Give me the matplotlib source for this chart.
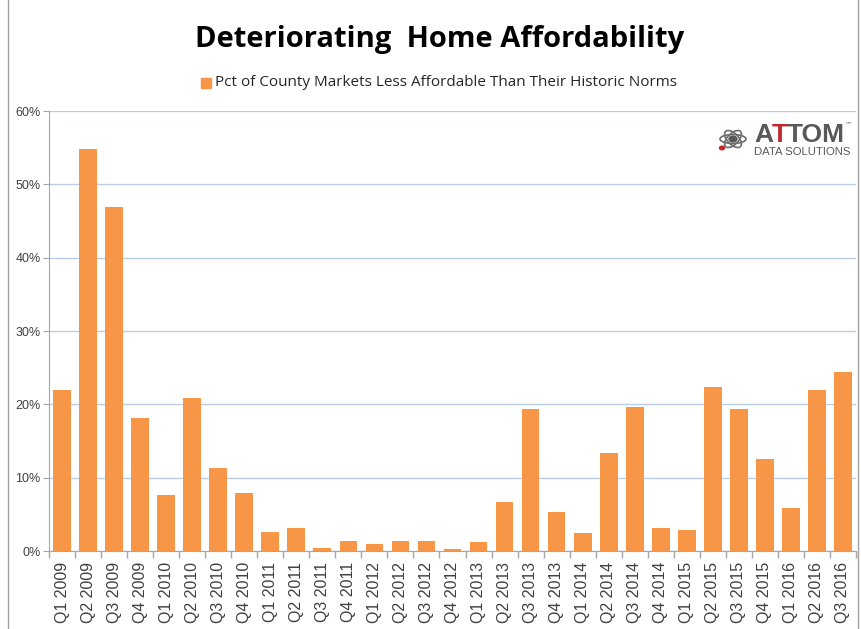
import matplotlib
matplotlib.use("Agg")
import matplotlib.pyplot as plt
import numpy as np
from matplotlib.ticker import FixedLocator, FuncFormatter
from matplotlib.patches import Ellipse, Circle

quarters = ["Q1 2009", "Q2 2009", "Q3 2009", "Q4 2009",
            "Q1 2010", "Q2 2010", "Q3 2010", "Q4 2010",
            "Q1 2011", "Q2 2011", "Q3 2011", "Q4 2011",
            "Q1 2012", "Q2 2012", "Q3 2012", "Q4 2012",
            "Q1 2013", "Q2 2013", "Q3 2013", "Q4 2013",
            "Q1 2014", "Q2 2014", "Q3 2014", "Q4 2014",
            "Q1 2015", "Q2 2015", "Q3 2015", "Q4 2015",
            "Q1 2016", "Q2 2016", "Q3 2016"]
pct_less_affordable = [22.0, 54.8, 46.9, 18.2,
                       7.7, 20.9, 11.3, 7.9,
                       2.6, 3.1, 0.4, 1.4,
                       0.9, 1.4, 1.4, 0.3,
                       1.2, 6.7, 19.4, 5.3,
                       2.4, 13.3, 19.7, 3.2,
                       2.9, 22.3, 19.4, 12.6,
                       5.8, 22.0, 24.4]
yticks = [0, 10, 20, 30, 40, 50, 60]

title = "Deteriorating  Home Affordability"
legend_label = "Pct of County Markets Less Affordable Than Their Historic Norms"

W, H = 861, 629
fig = plt.figure(figsize=(W / 100, H / 100), dpi=100)
ax = fig.add_axes([49 / W, 1 - 551 / H, (856 - 49) / W, (551 - 111) / H])

x = np.arange(len(quarters))
ax.bar(x, pct_less_affordable, width=0.68, color="#F79646", zorder=3)

ax.set_xlim(-0.5, len(quarters) - 0.5)
ax.set_ylim(0, 60)
ax.set_yticks(yticks)
ax.yaxis.set_major_formatter(FuncFormatter(lambda v, p: f"{int(v)}%"))
ax.grid(axis="y", color="#B9CDE5", linewidth=1.0, zorder=0)

ax.set_xticks(x)
ax.set_xticklabels(quarters, rotation=90, fontsize=11.5, color="#404040",
                   family="Liberation Sans")
ax.xaxis.set_minor_locator(FixedLocator(np.arange(-0.5, len(quarters), 1.0)))
ax.tick_params(axis="x", which="major", length=0, pad=8)
ax.tick_params(axis="x", which="minor", length=5, color="#A6A6A6", width=1)
ax.tick_params(axis="y", length=4, color="#A6A6A6", labelsize=9,
               labelcolor="#404040", pad=2)
for lab in ax.get_yticklabels():
    lab.set_family("Liberation Sans")

for s in ["top", "right"]:
    ax.spines[s].set_visible(False)
ax.spines["left"].set_color("#A6A6A6")
ax.spines["bottom"].set_color("#A6A6A6")

# frame
fig.add_artist(plt.Line2D([8 / W, 8 / W], [0, 1], color="#A0A0A0", lw=1))
fig.add_artist(plt.Line2D([858 / W, 858 / W], [0, 1], color="#A0A0A0", lw=1))

fig.text(440 / W, 1 - 40 / H, title, ha="center", va="center",
         fontsize=21, fontweight="bold", family="Open Sans", color="black")

# legend
fig.patches.append(plt.Rectangle((201 / W, 1 - 88 / H), 10 / W, 10 / H,
                                 transform=fig.transFigure, color="#F79646"))
fig.text(215 / W, 1 - 82 / H, legend_label, ha="left", va="center",
         fontsize=11, family="Open Sans", color="#262626")

# logo: letters placed one after another using measured extents
renderer = fig.canvas.get_renderer()
px = 754.0
ly = 1 - 135 / H
for part, col in [("A", "#595959"), ("T", "#C0282D"), ("TOM", "#595959")]:
    t = fig.text(px / W, ly, part, fontsize=19, fontweight="bold", color=col,
                 family="Liberation Sans", ha="left", va="center")
    bb = t.get_window_extent(renderer)
    px += bb.width - 1
fig.text((px + 1) / W, 1 - 124 / H, "™", fontsize=5, color="#595959",
         ha="left", va="center", family="DejaVu Sans")
fig.text(754 / W, 1 - 152 / H, "DATA SOLUTIONS", fontsize=8.2,
         color="#595959", family="Liberation Sans", ha="left", va="center")
# icon
cx, cy = 733, 139
for ang in (0, 60, 120):
    fig.patches.append(Ellipse((cx / W, 1 - cy / H), 26 / W, 9 / H, angle=ang,
                               transform=fig.transFigure, fill=False,
                               edgecolor="#6D6D6D", lw=1.2))
fig.patches.append(Circle((cx / W, 1 - cy / H), 4 / W, transform=fig.transFigure,
                          color="#595959"))
fig.patches.append(Circle(((cx - 11) / W, 1 - (cy + 9) / H), 2.5 / W,
                          transform=fig.transFigure, color="#C0282D"))

fig.savefig("out.png", dpi=100)
